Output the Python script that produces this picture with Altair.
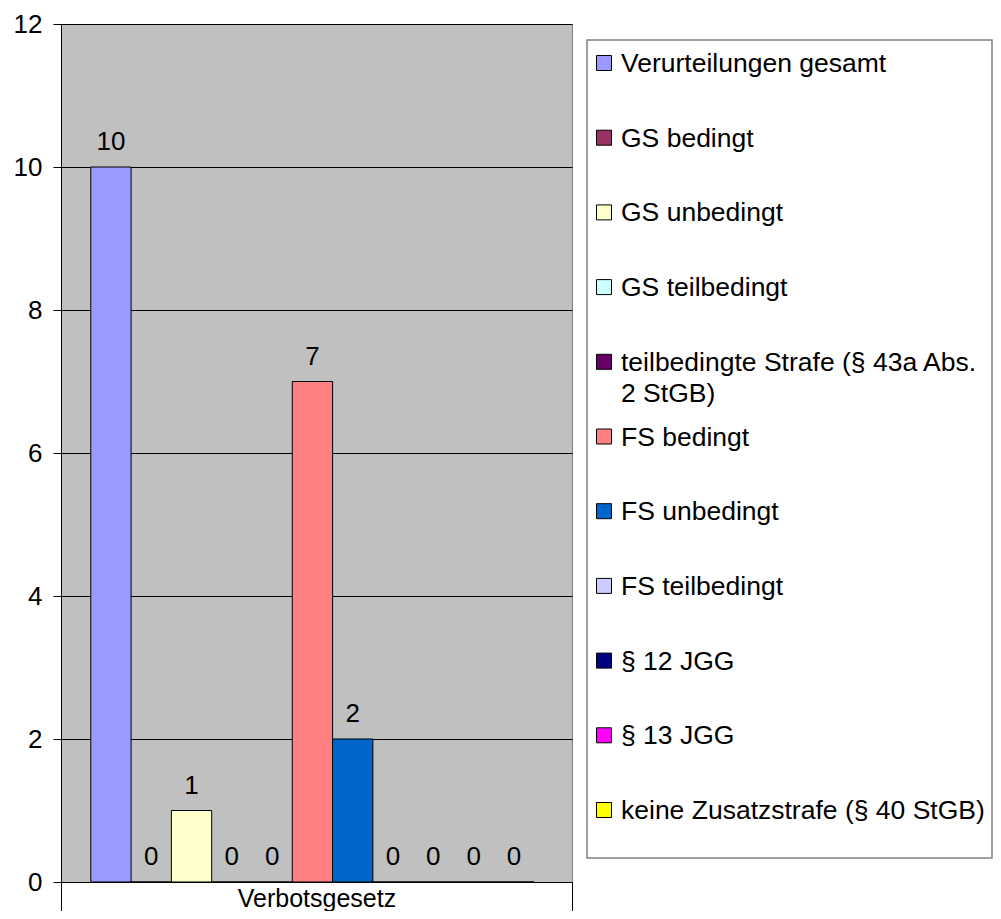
import altair as alt
import pandas as pd

FONT = "Liberation Sans"

categories = ["Verbotsgesetz"]
series = [
    "Verurteilungen gesamt",
    "GS bedingt",
    "GS unbedingt",
    "GS teilbedingt",
    "teilbedingte Strafe (§ 43a Abs. 2 StGB)",
    "FS bedingt",
    "FS unbedingt",
    "FS teilbedingt",
    "§ 12 JGG",
    "§ 13 JGG",
    "keine Zusatzstrafe (§ 40 StGB)",
]
values = [10, 0, 1, 0, 0, 7, 2, 0, 0, 0, 0]
colors = [
    "#9999FF", "#993366", "#FFFFCC", "#CCFFFF", "#660066", "#FF8080",
    "#0066CC", "#CCCCFF", "#000080", "#FF00FF", "#FFFF00",
]
legend_line1 = [
    "Verurteilungen gesamt", "GS bedingt", "GS unbedingt", "GS teilbedingt",
    "teilbedingte Strafe (§ 43a Abs.", "FS bedingt", "FS unbedingt",
    "FS teilbedingt", "§ 12 JGG", "§ 13 JGG", "keine Zusatzstrafe (§ 40 StGB)",
]
legend_line2 = ["", "", "", "", "2 StGB)", "", "", "", "", "", ""]
y_ticks = [0, 2, 4, 6, 8, 10, 12]

df = pd.DataFrame({
    "category": [categories[0]] * len(series),
    "series": series,
    "value": values,
})
leg = pd.DataFrame({
    "series": series,
    "idx": list(range(len(series))),
    "line1": legend_line1,
    "line2": legend_line2,
})

color_scale = alt.Scale(domain=series, range=colors)
x_enc = alt.X(
    "category:N",
    scale=alt.Scale(paddingInner=0, paddingOuter=0),
    axis=alt.Axis(
        title=None, tickBand="extent", tickSize=37, tickColor="black",
        domainColor="black", labelFontSize=25, labelColor="black",
        labelPadding=-13, labelBaseline="alphabetic", labelAngle=0,
        labelFont=FONT,
    ),
)
xoff_enc = alt.XOffset(
    "series:N", sort=series,
    scale=alt.Scale(paddingInner=0, paddingOuter=0.84, align=0.44),
)
y_scale = alt.Scale(domain=[0, 12], nice=False)

bars = alt.Chart(df).mark_bar(stroke="black", strokeWidth=1).encode(
    x=x_enc,
    xOffset=xoff_enc,
    y=alt.Y(
        "value:Q", scale=y_scale,
        axis=alt.Axis(
            values=y_ticks, title=None, grid=True, gridColor="black",
            gridWidth=1, gridOpacity=1, tickSize=8, tickColor="black",
            domainColor="black", labelFontSize=26, labelPadding=11,
            labelColor="black", labelFont=FONT,
        ),
    ),
    color=alt.Color("series:N", scale=color_scale, legend=None),
)

labels = alt.Chart(df).mark_text(
    font=FONT, fontSize=26, baseline="alphabetic", dy=-17, color="black"
).encode(
    x=x_enc,
    xOffset=xoff_enc,
    y=alt.Y("value:Q", scale=y_scale, axis=None),
    text="value:Q",
)

box = alt.Chart(pd.DataFrame({"a": [0]})).mark_rect(
    fill="white", stroke="#808080", strokeWidth=1.5
).encode(
    x=alt.value(526), x2=alt.value(931), y=alt.value(16), y2=alt.value(834)
)

leg_y = alt.Y("idx:Q", scale=alt.Scale(domain=[0, 10], range=[39, 786], nice=False, zero=False), axis=None)

leg_sym = alt.Chart(leg).mark_square(
    size=225, filled=True, opacity=1, stroke="black", strokeWidth=1
).encode(
    x=alt.value(543),
    y=leg_y,
    color=alt.Color("series:N", scale=color_scale, legend=None),
)

leg_text1 = alt.Chart(leg).mark_text(
    font=FONT, fontSize=26.5, align="left", baseline="middle", dy=1, color="black"
).encode(x=alt.value(560), y=leg_y, text="line1:N")

leg_text2 = alt.Chart(leg).transform_filter("datum.line2 != ''").mark_text(
    font=FONT, fontSize=26.5, align="left", baseline="middle", dy=32, color="black"
).encode(x=alt.value(560), y=leg_y, text="line2:N")

chart = alt.layer(
    bars, labels, box, leg_sym, leg_text1, leg_text2
).resolve_scale(y="independent").properties(
    width=511, height=858, autosize="none",
    padding={"left": 53, "top": 16, "right": 421, "bottom": 29},
).configure_view(
    fill="#C0C0C0", stroke="#808080", strokeWidth=1
).configure_axis(labelFont=FONT)

chart.save("out.html", embed_options={"renderer": "svg", "actions": False})
